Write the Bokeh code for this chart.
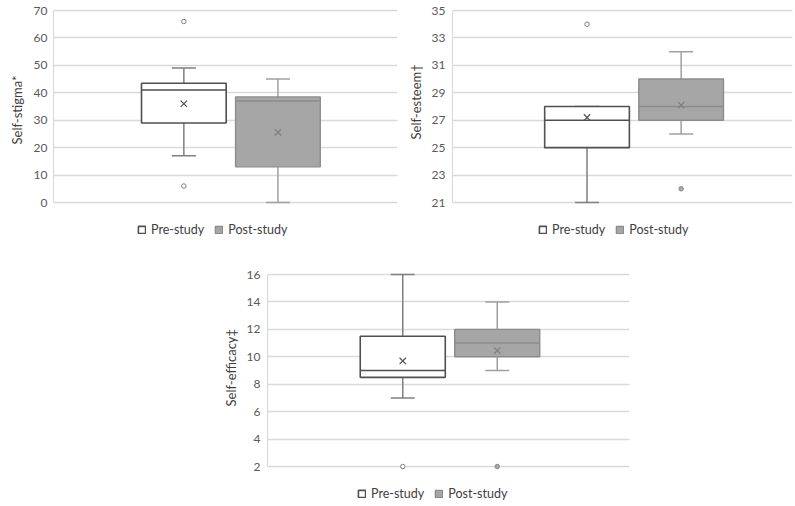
from bokeh.plotting import figure
from bokeh.models import Range1d, FactorRange, FixedTicker, Legend, LegendItem, ColumnDataSource, Title
from bokeh.transform import dodge
from bokeh.layouts import column, row
from bokeh.embed import file_html
from bokeh.resources import INLINE

groups = ["Pre-study", "Post-study"]

# Self-stigma
stigma_low = [17, 0]
stigma_q1 = [29, 13]
stigma_med = [41, 37]
stigma_q3 = [43.5, 38.5]
stigma_high = [49, 45]
stigma_mean = [36, 25.6]
stigma_out_group = ["Pre-study", "Pre-study"]
stigma_out = [66, 6]
stigma_ticks = [0, 10, 20, 30, 40, 50, 60, 70]

# Self-esteem
esteem_low = [21, 26]
esteem_q1 = [25, 27]
esteem_med = [27, 28]
esteem_q3 = [28, 30]
esteem_high = [28, 32]
esteem_mean = [27.2, 28.1]
esteem_out_group = ["Pre-study", "Post-study"]
esteem_out = [34, 22]
esteem_ticks = [21, 23, 25, 27, 29, 31, 33, 35]

# Self-efficacy
efficacy_low = [7, 9]
efficacy_q1 = [8.5, 10]
efficacy_med = [9, 11]
efficacy_q3 = [11.5, 12]
efficacy_high = [16, 14]
efficacy_mean = [9.7, 10.45]
efficacy_out_group = ["Pre-study", "Post-study"]
efficacy_out = [2, 2]
efficacy_ticks = [2, 4, 6, 8, 10, 12, 14, 16]

FONT = "Lato"
PRE_LINE = "#505050"
PRE_WHISK = "#7f7f7f"
POST_FILL = "#a6a6a6"
POST_LINE = "#8c8c8c"
POST_WHISK = "#a0a0a0"


def panel(ylabel, low, q1, med, q3, high, mean, out_groups, out_vals, ticks,
          width, height, bl, br, bt, grid_top, grid_bottom, pre_px, gap_px,
          leg_x, leg_y, title_offset, title_standoff, tick_standoff):
    # grid_top / grid_bottom: pixel offsets of the first / last gridline from the frame top
    frame_w = width - bl - br
    frame_h = height - bt
    span = ticks[-1] - ticks[0]
    per_px = span / (grid_bottom - grid_top)
    y0 = ticks[0] - (frame_h - grid_bottom) * per_px
    y1 = ticks[-1] + grid_top * per_px
    units = frame_w / gap_px
    side = (units - 2) / 2
    x_range = FactorRange(factors=groups, range_padding=side,
                          range_padding_units="absolute")
    shift = pre_px / gap_px - (side + 0.5)

    p = figure(width=width, height=height, x_range=x_range,
               y_range=Range1d(y0, y1),
               output_backend="svg", toolbar_location=None, title=None,
               min_border_left=bl, min_border_right=br, min_border_top=bt,
               min_border_bottom=0)
    p.outline_line_color = None
    p.xaxis.visible = False
    p.xgrid.grid_line_color = None
    p.ygrid.grid_line_color = "#d9d9d9"
    p.ygrid.grid_line_width = 1.5
    p.yaxis.ticker = FixedTicker(ticks=ticks)
    p.yaxis.bounds = (ticks[0], ticks[-1])
    p.yaxis.axis_line_color = "#d9d9d9"
    p.yaxis.axis_line_width = 1.2
    p.yaxis.major_tick_line_color = None
    p.yaxis.minor_tick_line_color = None
    p.yaxis.major_tick_out = 0
    p.yaxis.major_tick_in = 0
    p.yaxis.minor_tick_out = 0
    p.yaxis.major_label_text_font = FONT
    p.yaxis.major_label_text_font_size = "12px"
    p.yaxis.major_label_text_color = "#595959"
    p.yaxis.major_label_standoff = tick_standoff

    ytitle = Title(text=ylabel, align="left", offset=title_offset,
                   standoff=title_standoff, text_font=FONT, text_font_size="13px",
                   text_font_style="normal", text_color="#404040")
    p.add_layout(ytitle, "left")

    renders = []
    styles = [(PRE_LINE, "white", PRE_WHISK, 1.6), (POST_LINE, POST_FILL, POST_WHISK, 1.4)]
    for i, g in enumerate(groups):
        src = ColumnDataSource(dict(group=[g], low=[low[i]], q1=[q1[i]], med=[med[i]],
                                    q3=[q3[i]], high=[high[i]], mean=[mean[i]]))
        lc, fc, wc, lw = styles[i]
        xs = dodge("group", shift, range=x_range)
        p.segment(x0=xs, x1=xs, y0="q3", y1="high", source=src, line_color=wc, line_width=1.5)
        p.segment(x0=xs, x1=xs, y0="low", y1="q1", source=src, line_color=wc, line_width=1.5)
        p.scatter(x=xs, y="high", source=src, marker="dash", size=24, line_color=wc, line_width=1.5)
        p.scatter(x=xs, y="low", source=src, marker="dash", size=24, line_color=wc, line_width=1.5)
        r = p.vbar(x=xs, width=0.9, top="q3", bottom="q1", source=src,
                   fill_color=fc, line_color=lc, line_width=lw)
        renders.append(r)
        p.vbar(x=xs, width=0.9, top="med", bottom="med", source=src,
               fill_alpha=0, line_color=lc, line_width=lw)
        p.scatter(x=xs, y="mean", source=src, marker="x", size=9,
                  line_color=(lc if i == 0 else "#7f7f7f"), line_width=1.2)
        og = [gg for gg in out_groups if gg == g]
        ov = [v for gg, v in zip(out_groups, out_vals) if gg == g]
        if og:
            osrc = ColumnDataSource(dict(group=og, val=ov))
            p.scatter(x=dodge("group", shift, range=x_range), y="val", source=osrc,
                      marker="circle", size=4.5,
                      fill_color=("white" if i == 0 else POST_FILL),
                      line_color=(PRE_WHISK if i == 0 else POST_LINE), line_width=1)

    legend = Legend(items=[LegendItem(label=groups[0], renderers=[renders[0]]),
                           LegendItem(label=groups[1], renderers=[renders[1]])],
                    orientation="horizontal", location=(leg_x, leg_y),
                    padding=0, margin=0, spacing=10, glyph_width=9, glyph_height=9,
                    label_standoff=5, label_height=14,
                    label_text_font=FONT, label_text_font_size="12.5px",
                    label_text_color="#404040", border_line_color=None,
                    background_fill_alpha=0)
    p.add_layout(legend)
    return p


p1 = panel("Self-stigma*", stigma_low, stigma_q1, stigma_med, stigma_q3, stigma_high,
           stigma_mean, stigma_out_group, stigma_out, stigma_ticks,
           width=400, height=250, bl=46, br=3, bt=8, grid_top=2, grid_bottom=194,
           pre_px=133, gap_px=96, leg_x=84, leg_y=13,
           title_offset=106, title_standoff=12, tick_standoff=6)
p2 = panel("Self-esteem\u2020", esteem_low, esteem_q1, esteem_med, esteem_q3, esteem_high,
           esteem_mean, esteem_out_group, esteem_out, esteem_ticks,
           width=395, height=250, bl=47, br=3, bt=8, grid_top=2, grid_bottom=194,
           pre_px=136.5, gap_px=95.5, leg_x=86, leg_y=13,
           title_offset=111, title_standoff=10, tick_standoff=7)
p3 = panel("Self-efficacy\u2021", efficacy_low, efficacy_q1, efficacy_med, efficacy_q3,
           efficacy_high, efficacy_mean, efficacy_out_group, efficacy_out, efficacy_ticks,
           width=424, height=254, bl=50, br=10, bt=22, grid_top=2, grid_bottom=194,
           pre_px=136, gap_px=95, leg_x=90, leg_y=3,
           title_offset=98, title_standoff=10, tick_standoff=7)
p3.margin = (0, 0, 0, 215)

layout = column(row(p1, p2), p3)
open("out.html", "w").write(file_html(layout, INLINE))
